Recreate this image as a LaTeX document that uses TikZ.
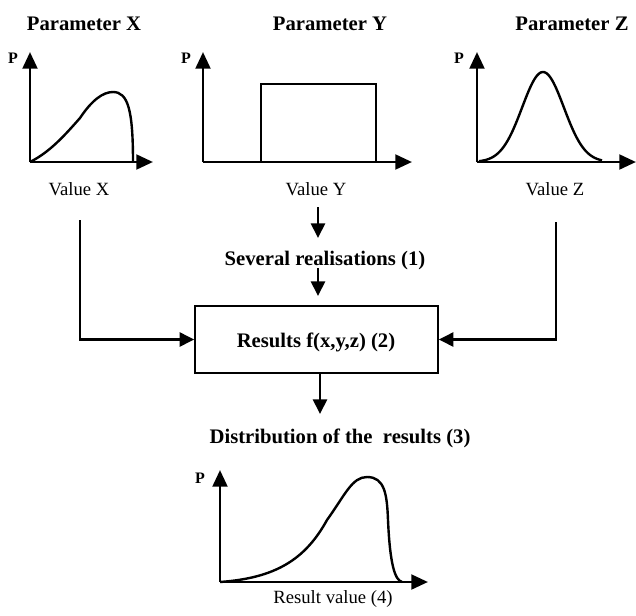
\documentclass[tikz,border=0pt]{standalone}
\usepackage{fontspec}
\setmainfont{Liberation Serif}
\usetikzlibrary{arrows.meta}

\tikzset{
  axis/.style={line width=2.2pt, -{Triangle[length=12.5pt,width=11pt]}},
  curve/.style={line width=1.8pt},
  flow/.style={line width=2pt, -{Triangle[length=11pt,width=10.5pt]}},
  resbox/.style={draw, line width=1.4pt, minimum width=182pt, minimum height=50pt},
  title/.style={font=\bfseries\fontsize{15.5}{18}\selectfont, anchor=base},
  axlabel/.style={font=\fontsize{14}{16}\selectfont, anchor=base},
  plabel/.style={font=\bfseries\fontsize{12}{14}\selectfont, anchor=base},
}

\begin{document}
\begin{tikzpicture}[x=0.75pt, y=-0.75pt]
\useasboundingbox (0,0) rectangle (636,615);

% ---- Parameter X: skewed density ----
\node[title] (tx) at (84,30) {Parameter X};
\coordinate (ox) at (30,162);
\draw[axis] (ox) -- (30,52);
\draw[axis] (ox) -- (153,162);
\node[plabel] (px) at (13,63) {P};
\draw[curve] (ox) .. controls (50,152) and (65,135) .. (80,118)
  .. controls (92,100) and (103,92) .. (113,92)
  .. controls (128,92) and (133,110) .. (133,162);
\node[axlabel] (vx) at (79,195) {Value X};

% ---- Parameter Y: uniform density ----
\node[title] (ty) at (330,30) {Parameter Y};
\coordinate (oy) at (203,162);
\draw[axis] (oy) -- (203,52);
\draw[axis] (oy) -- (412,162);
\node[plabel] (py) at (186,63) {P};
\draw[curve] (261,162) -- (261,84) -- (376,84) -- (376,162);
\node[axlabel] (vy) at (316,195) {Value Y};

% ---- Parameter Z: normal density ----
\node[title] (tz) at (572,30) {Parameter Z};
\coordinate (oz) at (477,162);
\draw[axis] (oz) -- (477,52);
\draw[axis] (oz) -- (636,162);
\node[plabel] (pz) at (459,63) {P};
\draw[curve] plot[domain=479:602, samples=90, smooth]
  (\x, {162-90*exp(-(\x-543)*(\x-543)/870)});
\node[axlabel] (vz) at (555,195) {Value Z};

% ---- Flow to the results ----
\node[title] (real) at (325,265) {Several realisations (1)};
\node[resbox] (res) at (316.5,339.5) {};
\node[title] (restext) at (316,347) {Results f(x,y,z) (2)};
\node[title] (dist) at (340,443) {Distribution of the~ results (3)};

\coordinate (xs) at (80,220);
\coordinate (zs) at (556,222);
\coordinate (ys) at (318,207);
\draw[flow] (xs) |- (res.west);
\draw[flow] (zs) |- (res.east);
\draw[flow] (ys) -- (318,238);
\draw[flow] (318,268) -- (318,296);
\draw[flow] (res.south -| 320,0) -- (320,414);

% ---- Resulting distribution ----
\coordinate (or) at (220,582);
\draw[axis] (or) -- (220,470);
\draw[axis] (or) -- (428,582);
\node[plabel] (pr) at (200,483) {P};
\draw[curve] (or) .. controls (275,578) and (305,560) .. (327,520)
  .. controls (345,495) and (352,477) .. (367,477)
  .. controls (385,477) and (387,495) .. (388,520)
  .. controls (390,565) and (395,580) .. (402,582);
\node[axlabel] (vr) at (333,603) {Result value (4)};
\end{tikzpicture}
\end{document}
